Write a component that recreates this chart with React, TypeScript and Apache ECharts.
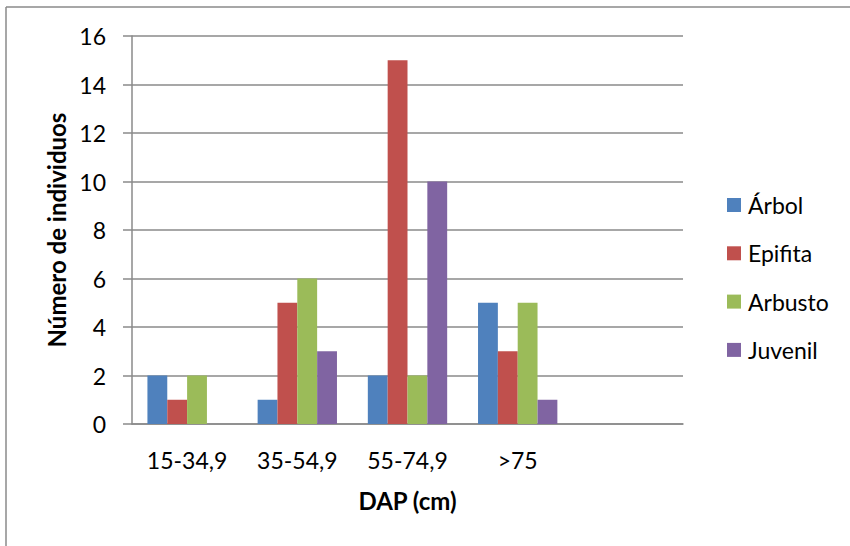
import React, { useEffect, useRef } from "react";
import * as echarts from "echarts";

const categories = ["15-34,9", "35-54,9", "55-74,9", ">75", ""];
const seriesNames = ["Árbol", "Epifita", "Arbusto", "Juvenil"];
const arbol = [2, 1, 2, 5, null];
const epifita = [1, 5, 15, 3, null];
const arbusto = [2, 6, 2, 5, null];
const juvenil = [0, 3, 10, 1, null];
const colors = ["#4F81BD", "#C0504D", "#9BBB59", "#8064A2"];
const yTicks = { min: 0, max: 16, interval: 2 };

const FONT = "Lato";
const GRAY = "#8a8a8a";

export default function App() {
  const ref = useRef<HTMLDivElement>(null);
  useEffect(() => {
    if (!ref.current) return;
    const chart = echarts.init(ref.current, null, { renderer: "svg" });
    const values = [arbol, epifita, arbusto, juvenil];
    chart.setOption({
      animation: false,
      backgroundColor: "#ffffff",
      textStyle: { fontFamily: FONT, color: "#000" },
      grid: { left: 132, right: 167, top: 36, bottom: 122, containLabel: false },
      legend: {
        orient: "vertical",
        left: 727,
        top: 193.5,
        padding: 0,
        itemWidth: 14,
        itemHeight: 14,
        itemGap: 25.3,
        icon: "rect",
        selectedMode: false,
        textStyle: { fontFamily: FONT, fontSize: 23, lineHeight: 23, color: "#000", padding: [0, 0, 0, 2] },
        data: seriesNames,
      },
      xAxis: {
        type: "category",
        data: categories,
        boundaryGap: true,
        name: "DAP (cm)",
        nameLocation: "middle",
        nameGap: 64,
        nameTextStyle: { fontFamily: FONT, fontSize: 24, fontWeight: "bold", color: "#000", lineHeight: 24 },
        axisLine: { show: true, lineStyle: { color: GRAY, width: 1.5 } },
        axisTick: { show: false },
        axisLabel: { margin: 24, fontFamily: FONT, fontSize: 23, lineHeight: 23, color: "#000", interval: 0 },
        splitLine: { show: false },
      },
      yAxis: {
        type: "value",
        min: yTicks.min,
        max: yTicks.max,
        interval: yTicks.interval,
        name: "Número de individuos",
        nameLocation: "middle",
        nameGap: 64,
        nameTextStyle: { fontFamily: FONT, fontSize: 24, fontWeight: "bold", color: "#000", lineHeight: 24 },
        axisLine: { show: true, lineStyle: { color: GRAY, width: 1.5 } },
        axisTick: { show: true, inside: false, length: 9, lineStyle: { color: GRAY, width: 1.5 } },
        axisLabel: { margin: 26, fontFamily: FONT, fontSize: 23, color: "#000" },
        splitLine: { show: true, lineStyle: { color: GRAY, width: 1.5 } },
      },
      graphic: [
        { type: "line", shape: { x1: 6, y1: 7, x2: 850, y2: 7 }, style: { stroke: GRAY, lineWidth: 1.5 }, silent: true },
        { type: "line", shape: { x1: 6, y1: 7, x2: 6, y2: 546 }, style: { stroke: GRAY, lineWidth: 1.5 }, silent: true },
      ],
      series: seriesNames.map((name, i) => ({
        name,
        type: "bar",
        data: values[i],
        barGap: "0%",
        barCategoryGap: "28%",
        itemStyle: { color: colors[i] },
        emphasis: { disabled: true },
      })),
    });
    return () => chart.dispose();
  }, []);
  return (
    <div
      ref={ref}
      style={{ position: "fixed", left: 0, top: 0, width: 850, height: 546, background: "#fff" }}
    />
  );
}
